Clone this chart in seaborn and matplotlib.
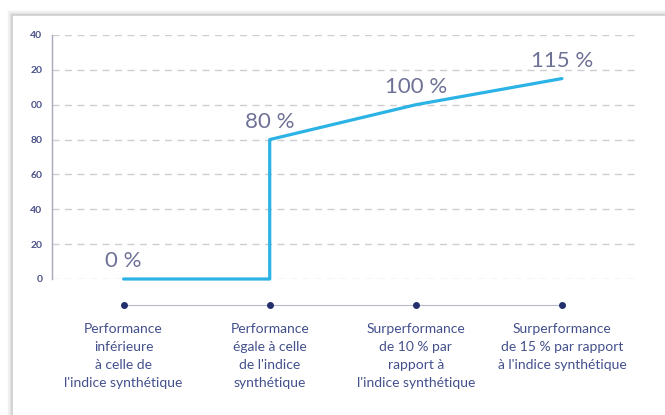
import numpy as np
import pandas as pd
import matplotlib
matplotlib.use("Agg")
import matplotlib.pyplot as plt
import seaborn as sns
from matplotlib.patches import Rectangle

# 数据准备
categories = ["Performance\ninférieure\nà celle de\nl'indice synthétique",
              "Performance\négale à celle\nde l'indice\nsynthétique",
              "Surperformance\nde 10 % par\nrapport à\nl'indice synthétique",
              "Surperformance\nde 15 % par rapport\nà l'indice synthétique"]
values = [0, 80, 100, 115]
value_labels = ["0 %", "80 %", "100 %", "115 %"]
yticks = [0, 20, 40, 60, 80, 100, 120, 140]
ytick_labels = ["0", "20", "40", "60", "80", "00", "20", "40"]

sns.set_style("white")
plt.rcParams['font.family'] = ['Lato', 'DejaVu Sans']

W, H = 665, 415
fig = plt.figure(figsize=(W / 100, H / 100), dpi=100)
fig.patch.set_facecolor("white")

# 卡片阴影
for i, (c, lw) in enumerate([("#f0f0f0", 6), ("#e2e2e2", 3), ("#cfcfcf", 1.2)]):
    fig.patches.append(Rectangle((12 / W, -0.2), 1.5, (H - 15) / H + 0.2,
                                 transform=fig.transFigure, facecolor="white",
                                 edgecolor=c, linewidth=lw, zorder=-10 + i))

left, right, top, bottom = 52, 635, 35, 279
ax = fig.add_axes([left / W, (H - bottom) / H, (right - left) / W, (bottom - top) / H])
ax.set_facecolor("none")

# 阶梯折线
xs = [0, 1, 1, 2, 3]
ys = [values[0], values[0], values[1], values[2], values[3]]
df = pd.DataFrame({"x": xs, "y": ys})
sns.lineplot(data=df, x="x", y="y", sort=False, estimator=None, color="#2bb3e6",
             linewidth=2.3, ax=ax, clip_on=False, zorder=5)

for i, (v, lab) in enumerate(zip(values, value_labels)):
    ax.annotate(lab, (i, v), xytext=(0, 18), textcoords="offset pixels",
                ha="center", va="center", fontsize=16, color="#6e7196")

ax.set_xlim(-0.49, 3.5)
ax.set_ylim(0, 140)
ax.set_yticks(yticks)
ax.set_yticklabels(ytick_labels, fontsize=7.5, fontweight="bold", color="#4a5288")
ax.tick_params(axis="y", length=0, pad=7)
for y in yticks:
    ax.axhline(y, color="#cdcdd2", linewidth=1, dashes=(5, 4), zorder=1)

ax.set_xticks(range(len(categories)))
ax.set_xticklabels(categories, fontsize=10, color="#43508c", linespacing=1.6,
                   va="top")
ax.tick_params(axis="x", length=0, pad=32)
ax.set_xlabel("")
ax.set_ylabel("")

for s in ["top", "right", "bottom"]:
    ax.spines[s].set_visible(False)
ax.spines["left"].set_color("#a7a8bb")
ax.spines["left"].set_linewidth(1)

# 底部圆点
trans = ax.get_xaxis_transform()
dot_y = -26 / (bottom - top)
ax.plot([0, len(categories) - 1], [dot_y, dot_y], color="#b7b9cc", linewidth=0.8,
        transform=trans, clip_on=False)
ax.plot(range(len(categories)), [dot_y] * len(categories), "o", color="#24306e",
        markersize=4, transform=trans, clip_on=False)

fig.savefig("out.png", dpi=100)
